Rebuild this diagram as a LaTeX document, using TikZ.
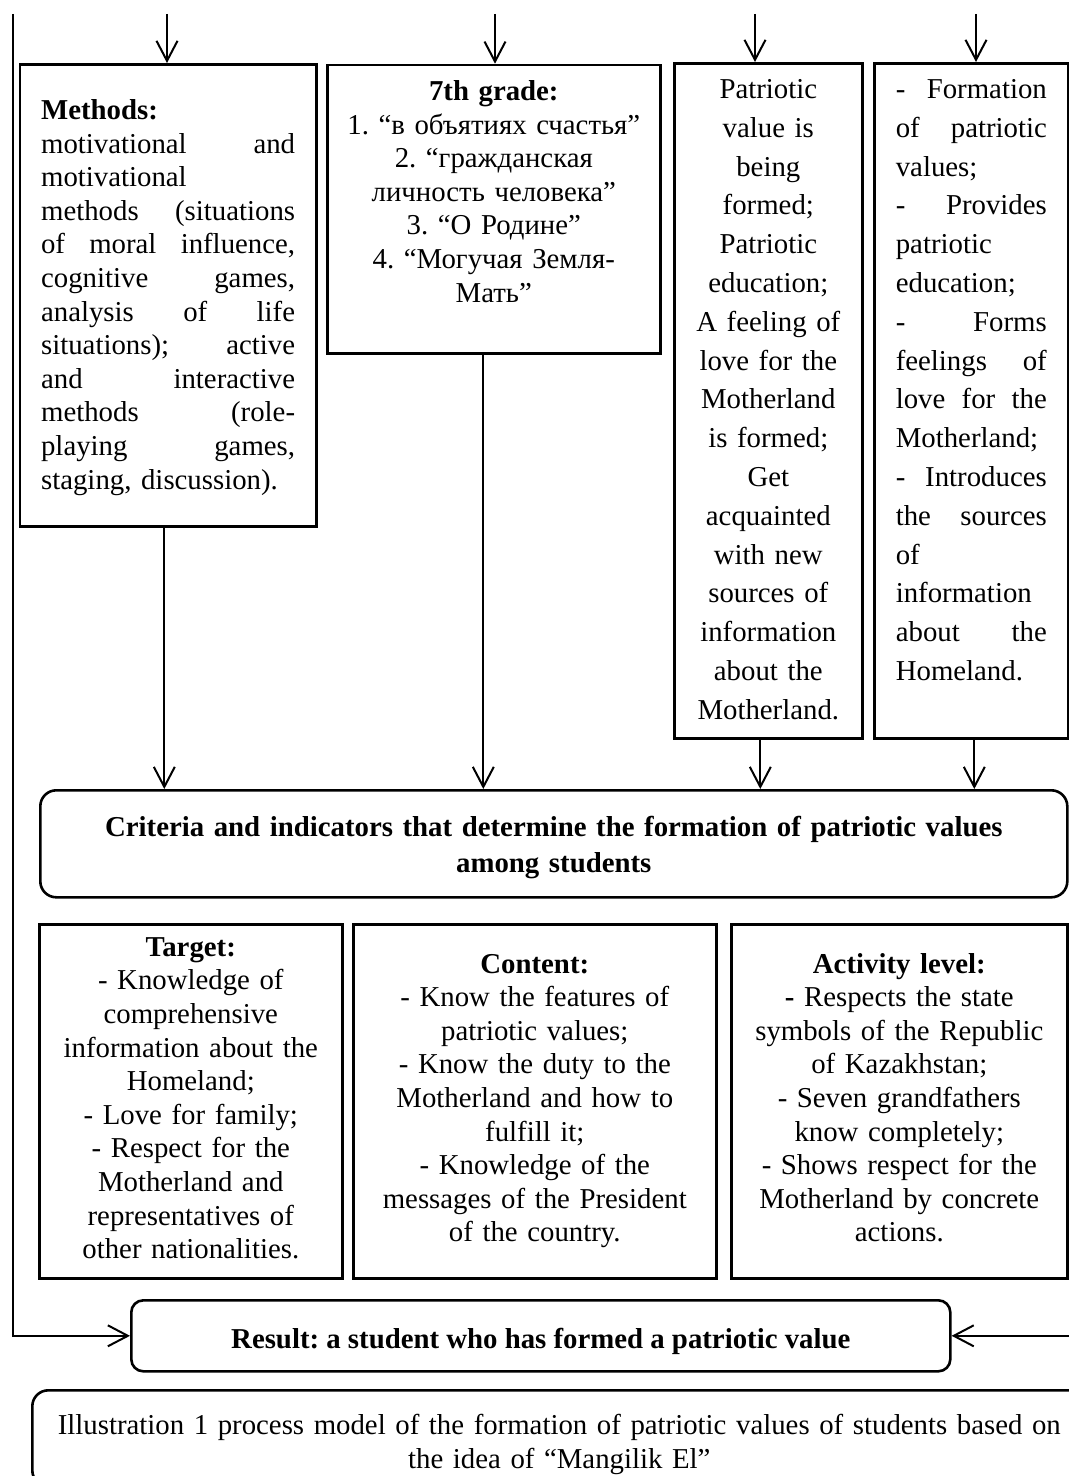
\documentclass[tikz,border=0pt]{standalone}
\usepackage{fontspec}
\setmainfont{Liberation Serif}
\usepackage{tikz}
\usetikzlibrary{arrows.meta,positioning}
\frenchspacing

\newcommand{\txtsize}{\fontsize{14.4pt}{16.8pt}\selectfont}
\newcommand{\widesize}{\fontsize{14.4pt}{19.4pt}\selectfont}

\begin{document}
\begin{tikzpicture}[x=0.5pt,y=-0.5pt,
    box/.style={draw,rectangle,line width=1.3pt,anchor=north west,inner ysep=0pt,font=\txtsize},
    rbox/.style={box,rounded corners=8pt},
    arr/.style={line width=1pt,-{Straight Barb[length=10pt,width=10.5pt]}}]
  \useasboundingbox (0,0) rectangle (1069,1476);
  \clip (0,0) rectangle (1069,1476);

  % upper row
  \node [box,align=left,text width=127pt,inner xsep=10.6pt,
         text height=27.65pt,text depth=203.35pt] (methods) at (18.6,63)
        {\textbf{Methods:}\\
         motivational\hfill and\\
         motivational\\
         methods\hfill (situations\\
         of\hfill moral\hfill influence,\\
         cognitive\hfill games,\\
         analysis\hfill of\hfill life\\
         situations);\hfill active\\
         and\hfill interactive\\
         methods\hfill (role-\\
         playing\hfill games,\\
         staging, discussion).};
  \node [box,align=center,text width=158pt,inner xsep=4.25pt,
         text height=17.8pt,text depth=126.35pt] (grade) at (326,63.7)
        {\textbf{7th grade:}\\
         1. “в объятиях счастья”\\
         2. “гражданская\\
         личность человека”\\
         3. “О Родине”\\
         4. “Могучая Земля-\\
         Мать”};
  \node [box,align=center,text width=75pt,inner xsep=9.5pt,font=\widesize,
         text height=17.65pt,text depth=319.85pt] (value) at (673,62)
        {Patriotic\\ value is\\ being\\ formed;\\ Patriotic\\ education;\\
         A feeling of\\ love for the\\ Motherland\\ is formed;\\ Get\\ acquainted\\
         with new\\ sources of\\ information\\ about the\\ Motherland.};
  \node [box,align=left,text width=75.5pt,inner xsep=10.75pt,font=\widesize,
         text height=17.65pt,text depth=319.85pt] (tasks) at (873,62)
        {-\hfill Formation\\
         of\hfill patriotic\\
         values;\\
         -\hfill Provides\\
         patriotic\\
         education;\\
         -\hfill Forms\\
         feelings\hfill of\\
         love\hfill for\hfill the\\
         Motherland;\\
         -\hfill Introduces\\
         the\hfill sources\\
         of\\
         information\\
         about\hfill the\\
         Homeland.};

  % criteria
  \node [rbox,align=center,text width=490pt,inner xsep=11.75pt,
         font=\fontsize{14.4pt}{18pt}\selectfont\bfseries,
         text height=23.2pt,text depth=30.3pt] (crit) at (39,789)
        {Criteria and indicators that determine the formation of patriotic values\\
         among students};

  % lower row
  \node [box,align=center,text width=135.5pt,inner xsep=8pt,
         text height=16pt,text depth=161pt] (target) at (38,923)
        {\textbf{Target:}\\
         - Knowledge of\\
         comprehensive\\
         information about the\\
         Homeland;\\
         - Love for family;\\
         - Respect for the\\
         Motherland and\\
         representatives of\\
         other nationalities.};
  \node [box,align=center,text width=165.5pt,inner xsep=8pt,
         text height=24.4pt,text depth=152.6pt] (content) at (352,923)
        {\textbf{Content:}\\
         - Know the features of\\
         patriotic values;\\
         - Know the duty to the\\
         Motherland and how to\\
         fulfill it;\\
         - Knowledge of the\\
         messages of the President\\
         of the country.};
  \node [box,align=center,text width=152pt,inner xsep=8pt,
         text height=24.4pt,text depth=152.6pt] (activity) at (730,923)
        {\textbf{Activity level:}\\
         \textbf{-} Respects the state\\
         symbols of the Republic\\
         of Kazakhstan;\\
         - Seven grandfathers\\
         know completely;\\
         - Shows respect for the\\
         Motherland by concrete\\
         actions.};

  % result and caption
  \node [rbox,rounded corners=6pt,minimum width=409.5pt,inner xsep=0pt,
         font=\txtsize\bfseries,text height=23.85pt,text depth=11.65pt] (result) at (130,1299)
        {Result: a student who has formed a patriotic value};
  \node [rbox,align=center,text width=520pt,inner xsep=3.5pt,
         font=\fontsize{14.4pt}{17pt}\selectfont,
         text height=22pt,text depth=26pt] (caption) at (31,1389)
        {Illustration 1 process model of the formation of patriotic values of students based on\\
         the idea of “Mangilik El”};

  % incoming arrows
  \coordinate (in1) at (167,14);
  \coordinate (in2) at (495,14);
  \coordinate (in3) at (755,14);
  \coordinate (in4) at (976,14);
  \draw [arr] (in1) -- (in1 |- methods.north);
  \draw [arr] (in2) -- (in2 |- grade.north);
  \draw [arr] (in3) -- (in3 |- value.north);
  \draw [arr] (in4) -- (in4 |- tasks.north);

  % down to criteria
  \draw [arr] ([xshift=-1.9pt]methods.south) -- ([xshift=-1.9pt]methods.south |- crit.north);
  \draw [arr] ([xshift=-5.25pt]grade.south) -- ([xshift=-5.25pt]grade.south |- crit.north);
  \draw [arr] ([xshift=-4pt]value.south) -- ([xshift=-4pt]value.south |- crit.north);
  \draw [arr] ([xshift=1.5pt]tasks.south) -- ([xshift=1.5pt]tasks.south |- crit.north);

  % side lines into result
  \coordinate (lt) at (13,14);
  \coordinate (rt) at (1085,14);
  \draw [arr] (lt) |- (result.west);
  \draw [arr] (rt |- result.east) -- (result.east);
\end{tikzpicture}
\end{document}
